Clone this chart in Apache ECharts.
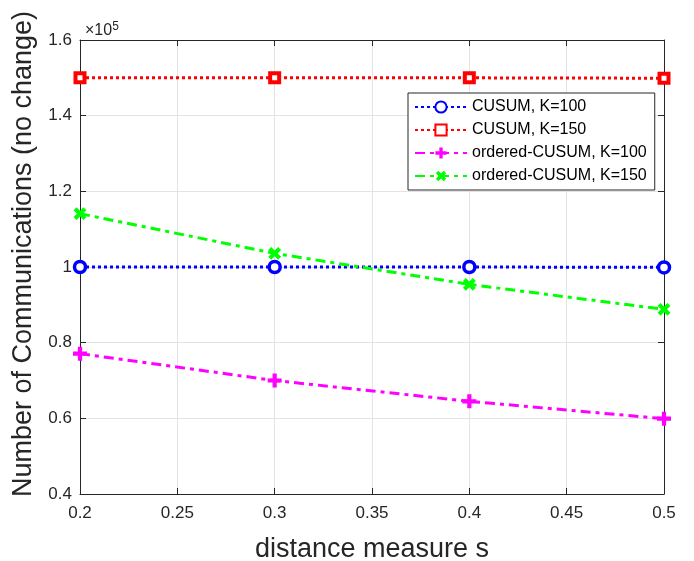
<!DOCTYPE html>
<html>
<head>
<meta charset="utf-8">
<script src="https://cdn.jsdelivr.net/npm/echarts@6/dist/echarts.min.js"></script>
<style>
html, body { margin: 0; padding: 0; background: #fff; }
#chart { width: 694px; height: 561px; }
</style>
</head>
<body>
<div id="chart"></div>
<script>
var xValues = [0.2, 0.3, 0.4, 0.5];
var cusum100 = [100000, 100000, 100000, 99900];
var cusum150 = [150000, 150000, 150000, 149900];
var ordered100 = [77100, 70000, 64500, 59900];
var ordered150 = [114100, 103600, 95400, 88800];
var seriesNames = ['CUSUM, K=100', 'CUSUM, K=150', 'ordered-CUSUM, K=100', 'ordered-CUSUM, K=150'];

var plusPath = 'path://M3.5,0H6.5V3.5H10V6.5H6.5V10H3.5V6.5H0V3.5H3.5Z';
var axisColor = '#262626';
var font = 'Liberation Sans, Arial, sans-serif';

function pairs(vals) {
	var out = [];
	for (var i = 0; i < xValues.length; i++) out.push([xValues[i], vals[i]]);
	return out;
}

var myChart = echarts.init(document.getElementById('chart'));

var hiddenAxis = {
	axisLine : { show : true, lineStyle : { color : axisColor, width : 1 } },
	axisTick : { show : true, inside : true, length : 6, lineStyle : { color : axisColor } },
	axisLabel : { show : false },
	splitLine : { show : false }
};

myChart.setOption({
	animation : false,
	backgroundColor : '#fff',
	textStyle : { fontFamily : font },
	title : {
		text : '{a|\u00d710}{b|5}',
		left : 80,
		top : 16,
		textStyle : {
			rich : {
				a : { fontSize : 16, color : axisColor, fontFamily : font, fontWeight : 'normal' },
				b : { fontSize : 12, color : axisColor, fontFamily : font, fontWeight : 'normal', verticalAlign : 'top', padding : [0, 0, 8, 0] }
			}
		}
	},
	grid : { left : 80, right : 30, top : 40, bottom : 67, outerBoundsMode : 'none', containLabel : false },
	legend : {
		orient : 'vertical',
		left : 408,
		top : 93,
		padding : [6, 8, 6, 6],
		itemGap : 7,
		itemWidth : 52,
		itemHeight : 14,
		backgroundColor : '#fff',
		borderColor : axisColor,
		borderWidth : 1,
		borderRadius : 0,
		textStyle : { fontSize : 16, color : '#000', fontFamily : font },
		data : seriesNames
	},
	xAxis : [{
		type : 'value',
		min : 0.2,
		max : 0.5,
		interval : 0.05,
		name : 'distance measure s',
		nameLocation : 'middle',
		nameGap : 42,
		nameTextStyle : { fontSize : 27, color : axisColor, fontFamily : font },
		axisLine : { lineStyle : { color : axisColor } },
		axisTick : { inside : true, length : 6, lineStyle : { color : axisColor } },
		axisLabel : { fontSize : 17, color : axisColor, margin : 11,
			formatter : function (v) { return String(+v.toFixed(2)); } },
		splitLine : { show : true, lineStyle : { color : '#e3e3e3' } }
	}, Object.assign({ type : 'value', position : 'top', min : 0.2, max : 0.5, interval : 0.05 }, hiddenAxis)],
	yAxis : [{
		type : 'value',
		min : 40000,
		max : 160000,
		interval : 20000,
		name : 'Number of Communications (no change)',
		nameLocation : 'middle',
		nameGap : 39,
		nameTextStyle : { fontSize : 27, color : axisColor, fontFamily : font, padding : [0, 0, 0, 26] },
		axisLine : { show : true, lineStyle : { color : axisColor } },
		axisTick : { show : true, inside : true, length : 6, lineStyle : { color : axisColor } },
		axisLabel : { fontSize : 17, color : axisColor, margin : 8,
			formatter : function (v) { return String(+(v / 1e5).toFixed(1)); } },
		splitLine : { show : true, lineStyle : { color : '#e3e3e3' } }
	}, Object.assign({ type : 'value', position : 'right', min : 40000, max : 160000, interval : 20000 }, hiddenAxis)],
	series : [{
		name : seriesNames[0],
		type : 'line',
		data : pairs(cusum100),
		symbol : 'circle',
		symbolSize : 11,
		itemStyle : { color : '#fff', borderColor : '#0000ff', borderWidth : 3.5 },
		lineStyle : { color : '#0000ff', width : 3, type : [3, 3] },
		z : 3
	}, {
		name : seriesNames[1],
		type : 'line',
		data : pairs(cusum150),
		symbol : 'rect',
		symbolSize : 9,
		itemStyle : { color : '#fff', borderColor : '#ff0000', borderWidth : 4 },
		lineStyle : { color : '#ff0000', width : 3, type : [3, 3] },
		z : 3
	}, {
		name : seriesNames[2],
		type : 'line',
		data : pairs(ordered100),
		symbol : plusPath,
		symbolSize : 14,
		itemStyle : { color : '#ff00ff' },
		lineStyle : { color : '#ff00ff', width : 3, type : [10, 5, 4, 5] },
		z : 3
	}, {
		name : seriesNames[3],
		type : 'line',
		data : pairs(ordered150),
		symbol : plusPath,
		symbolSize : 14,
		symbolRotate : 45,
		itemStyle : { color : '#00ff00' },
		lineStyle : { color : '#00ff00', width : 3, type : [10, 5, 4, 5] },
		z : 3
	}]
});
</script>
</body>
</html>
